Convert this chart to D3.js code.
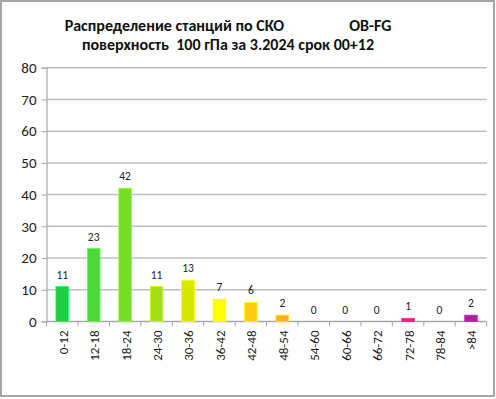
<!DOCTYPE html>
<html><head><meta charset="utf-8">
<script src="https://cdn.jsdelivr.net/npm/d3@7"></script>
<style>body{margin:0;background:#fff}</style>
</head><body>
<script>
const categories = ["0-12","12-18","18-24","24-30","30-36","36-42","42-48","48-54","54-60","60-66","66-72","72-78","78-84",">84"];
const values = [11,23,42,11,13,7,6,2,0,0,0,1,0,2];
const barColors = ["#22cc44","#4cd83a","#77dd22","#a3e01a","#d4e800","#ffff00","#ffcc11","#ffb11d","#ff9900","#ff7700","#ff4444","#ff1a80","#dd2288","#aa2299"];
const yTicks = [0,10,20,30,40,50,60,70,80];
const titleLines = ["Распределение станций по СКО                  OB-FG","поверхность  100 гПа за 3.2024 срок 00+12"];

const W = 496, H = 399;
const svg = d3.select("body").append("svg").attr("width", W).attr("height", H);
svg.append("rect").attr("x",1).attr("y",1).attr("width",493).attr("height",395)
  .attr("fill","#fff").attr("stroke","#a6a6a6").attr("stroke-width",2);

const font = "Carlito, 'Open Sans', 'Liberation Sans', sans-serif";
const x = d3.scaleBand().domain(categories).range([46.5, 486.7]).paddingInner(0.6).paddingOuter(0.3);
const xTick = d3.scaleBand().domain(categories).range([46.5, 486.7]);
const y = d3.scaleLinear().domain([0,80]).range([321.5, 67.7]);

// gridlines
svg.append("g").selectAll("line").data(yTicks.filter(d=>d>0)).join("line")
  .attr("x1",46.5).attr("x2",486.7).attr("y1",d=>y(d)).attr("y2",d=>y(d))
  .attr("stroke","#c0c0c0").attr("stroke-width",1.5);

// y axis
const yAxis = d3.axisLeft(y).tickValues(yTicks).tickSize(5).tickPadding(5);
const gy = svg.append("g").attr("transform","translate(46.5,0)").call(yAxis);
gy.select(".domain").attr("stroke","#a6a6a6").attr("stroke-width",1.2);
gy.selectAll(".tick line").attr("stroke","#a6a6a6");
gy.selectAll("text").attr("font-family",font).attr("font-size",15).attr("fill","#222");

// x axis
const gx = svg.append("g").attr("transform","translate(0,321.5)");
gx.append("line").attr("x1",46.5).attr("x2",486.7).attr("stroke","#a6a6a6").attr("stroke-width",1.5);
const edges = categories.map(c=>xTick(c)+xTick.bandwidth()).concat([xTick(categories[0])]);
gx.selectAll("line.t").data(edges).join("line").attr("class","t")
  .attr("x1",d=>d).attr("x2",d=>d).attr("y1",0).attr("y2",5).attr("stroke","#a6a6a6");
gx.selectAll("text").data(categories).join("text")
  .attr("transform",d=>`translate(${xTick(d)+xTick.bandwidth()/2+5.5},9) rotate(-90)`)
  .attr("text-anchor","end").attr("font-family",font).attr("font-size",13).attr("fill","#222")
  .text(d=>d);

// bars
svg.append("g").selectAll("rect").data(values).join("rect")
  .attr("x",(d,i)=>x(categories[i])).attr("width",x.bandwidth())
  .attr("y",d=>y(d)).attr("height",d=>y(0)-y(d))
  .attr("fill",(d,i)=>barColors[i]).attr("stroke",(d,i)=>d3.color(barColors[i]).brighter(0.6))
  .attr("stroke-width",0.8);

// value labels
svg.append("g").selectAll("text").data(values).join("text")
  .attr("x",(d,i)=>x(categories[i])+x.bandwidth()/2).attr("y",d=>y(d)-8)
  .attr("text-anchor","middle").attr("font-family",font).attr("font-size",11.5).attr("fill","#222")
  .text(d=>d);

// title
svg.append("g").selectAll("text").data(titleLines).join("text")
  .attr("x",228).attr("y",(d,i)=>31+i*18.5)
  .attr("text-anchor","middle").attr("font-family",font).attr("font-size",16).attr("font-weight","bold")
  .attr("fill","#111").style("white-space","pre").attr("xml:space","preserve")
  .text(d=>d);
</script>
</body></html>
